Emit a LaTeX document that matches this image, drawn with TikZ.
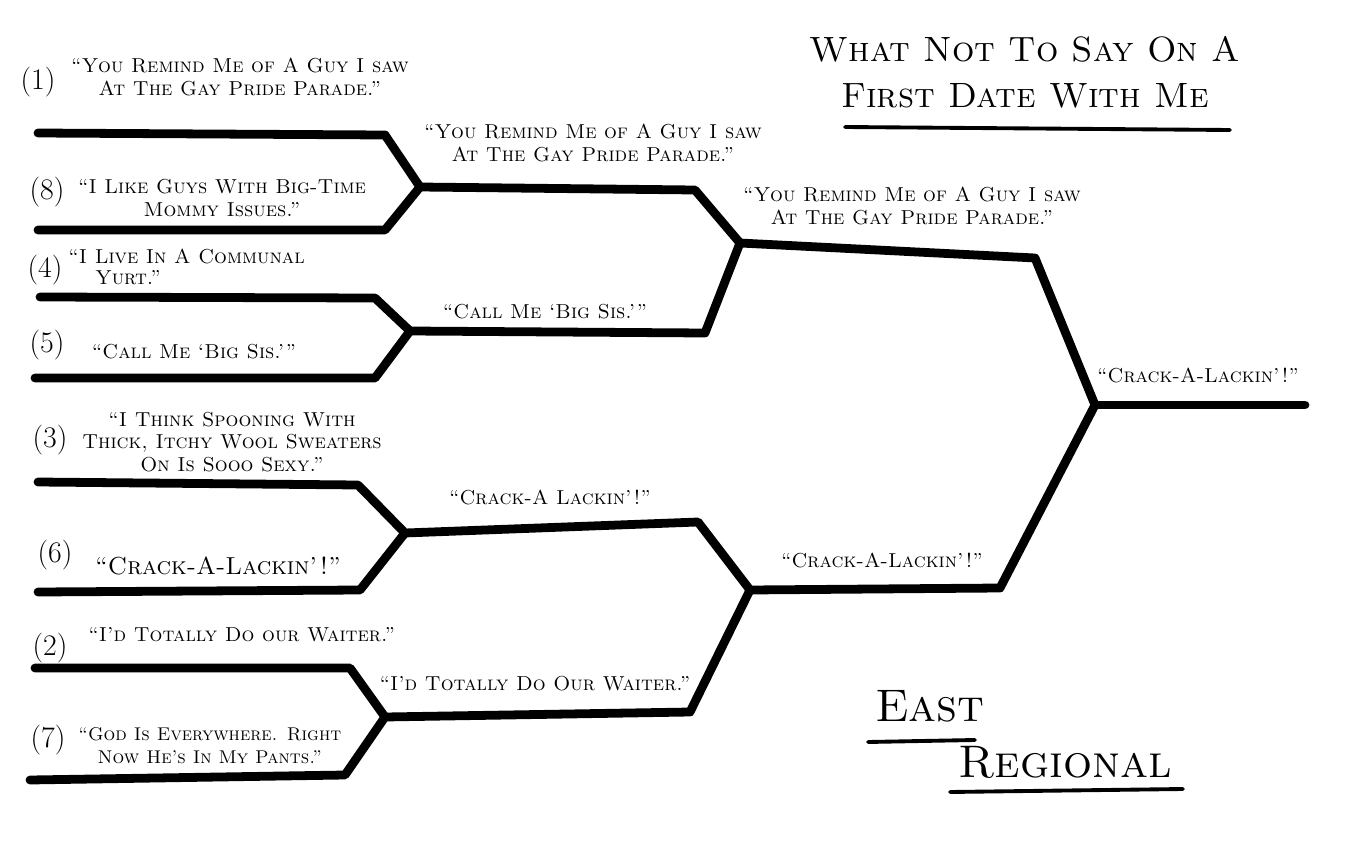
\documentclass[tikz,border=0pt]{standalone}
\usepackage{tikz}
\usetikzlibrary{positioning}
\newcommand{\quot}[1]{``#1''}

\begin{document}
\begin{tikzpicture}[x=0.02cm, y=-0.02cm,
  pick/.style={font=\fontsize{11.5}{13}\selectfont\scshape, inner sep=0pt, align=center},
  seed/.style={font=\fontsize{17}{19}\selectfont, inner sep=0pt},
  slot/.style={line width=5pt, line cap=round, line join=round},
  uline/.style={line width=2.2pt, line cap=round}
]
\useasboundingbox (0,0) rectangle (1357,862);
% first round slots
\foreach \name/\xa/\ya/\xb/\yb in {s1/38/133/385/135, s8/38/230/385/230,
  s4/40/297/375/298, s5/35/378/375/378, s3/38/482/358/485, s6/38/592/360/590,
  s2/35/668/350/668, s7/30/780/345/775} {
  \coordinate (\name a) at (\xa,\ya);
  \coordinate (\name b) at (\xb,\yb);
}
\coordinate (j18) at (420,187);
\coordinate (j45) at (410,331);
\coordinate (j36) at (405,533);
\coordinate (j27) at (385,717);
\coordinate (k1) at (740,243);
\coordinate (k2) at (750,590);
\coordinate (fin) at (1095,405);
\draw[slot] (s1a) -- (s1b) -- (j18) -- (s8b) -- (s8a);
\draw[slot] (s4a) -- (s4b) -- (j45) -- (s5b) -- (s5a);
\draw[slot] (s3a) -- (s3b) -- (j36) -- (s6b) -- (s6a);
\draw[slot] (s2a) -- (s2b) -- (j27) -- (s7b) -- (s7a);
% second round
\draw[slot] (j18) -- (695,190) -- (k1) -- (705,333) -- (j45);
\draw[slot] (j36) -- (698,522) -- (k2) -- (690,712) -- (j27);
% third round and final
\draw[slot] (k1) -- (1035,258) -- (fin) -- (1000,588) -- (k2);
\coordinate (champ) at (1305,405);
\draw[slot] (fin) -- (champ);

% seeds
\foreach \n/\x/\y in {1/38/82, 8/47/192, 4/45/270, 5/47/345, 3/50/440, 6/55/555, 2/50/648, 7/48/740} {
  \node[seed] (n\n) at (\x,\y) {(\n)};
}

% first round picks
\node[pick] (t1) at (240,77) {``You Remind Me of A Guy I saw\\At The Gay Pride Parade.''};
\node[pick] (t8) at (222,198) {``I Like Guys With Big-Time\\Mommy Issues.''};
\node[pick, anchor=west] (t4a) at (68,256) {``I Live In A Communal};
\node[pick, anchor=west] (t4b) at (95,278) {Yurt.''};
\node[pick] (t5) at (194,352) {\quot{Call Me `Big Sis.'{}}};
\node[pick] (t3) at (232,442) {``I Think Spooning With\\Thick, Itchy Wool Sweaters\\On Is Sooo Sexy.''};
\node[pick, font=\fontsize{14}{16}\selectfont\scshape] (t6) at (218,566) {\quot{Crack-A-Lackin'!}};
\node[pick, anchor=west] (t2) at (88,635) {\quot{I'd Totally Do our Waiter.}};
\node[pick, anchor=west, font=\fontsize{10.5}{13}\selectfont\scshape] (t7) at (78,746) {``God Is Everywhere. Right\\Now He's In My Pants.''};

% second round picks
\node[pick] (u1) at (593,143) {``You Remind Me of A Guy I saw\\At The Gay Pride Parade.''};
\node[pick] (u2) at (545,312) {\quot{Call Me `Big Sis.'{}}};
\node[pick] (u3) at (550,497) {\quot{Crack-A Lackin'!}};
\node[pick] (u4) at (535,684) {\quot{I'd Totally Do Our Waiter.}};

% third round and final picks
\node[pick] (v1) at (912,206) {``You Remind Me of A Guy I saw\\At The Gay Pride Parade.''};
\node[pick] (v2) at (882,560) {\quot{Crack-A-Lackin'!}};
\node[pick] (w1) at (1198,375) {\quot{Crack-A-Lackin'!}};

% title
\node[font=\fontsize{20}{26}\selectfont\scshape, align=center, inner sep=0pt] (title) at (1025,72) {What Not To Say On A\\First Date With Me};
\draw[uline] (845,127) -- (1230,130);
\node[font=\fontsize{26}{30}\selectfont\scshape, inner sep=0pt] (east) at (930,706) {East};
\draw[uline] (868,742) -- (975,740);
\node[font=\fontsize{26}{30}\selectfont\scshape, inner sep=0pt] (region) at (1065,762) {Regional};
\draw[uline] (950,792) -- (1183,789);
\end{tikzpicture}
\end{document}
